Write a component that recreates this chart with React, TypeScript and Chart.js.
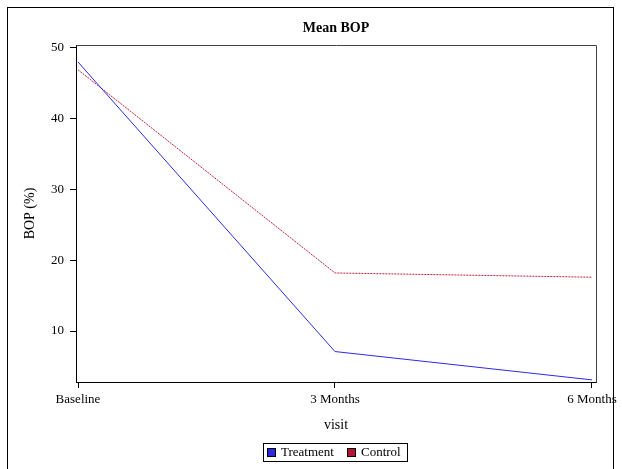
import React, { useEffect, useRef } from "react";
import { Chart, registerables } from "chart.js";

Chart.register(...registerables);

const categories = ["Baseline", "3 Months", "6 Months"];
const treatment = [48.0, 7.1, 3.1];
const control = [46.9, 18.2, 17.6];
const yTicks = [10, 20, 30, 40, 50];

const FONT = "'Liberation Serif', 'Times New Roman', serif";

const decorations = {
  id: "decorations",
  afterDraw(chart: any) {
    const ctx = chart.ctx;
    const ca = chart.chartArea;
    ctx.save();
    // outer border
    ctx.strokeStyle = "#000";
    ctx.lineWidth = 1;
    ctx.strokeRect(7.5, 7.5, 606, 470);
    // plot frame (top/right)
    ctx.strokeStyle = "#444";
    ctx.beginPath();
    ctx.moveTo(Math.round(ca.left) + 0.5, Math.round(ca.top) + 0.5);
    ctx.lineTo(Math.round(ca.right) + 0.5, Math.round(ca.top) + 0.5);
    ctx.lineTo(Math.round(ca.right) + 0.5, Math.round(ca.bottom) + 0.5);
    ctx.stroke();
    // title
    const cx = (ca.left + ca.right) / 2;
    ctx.fillStyle = "#000";
    ctx.textAlign = "center";
    ctx.textBaseline = "middle";
    ctx.font = `bold 14px ${FONT}`;
    ctx.fillText("Mean BOP", cx, 28);
    // x title
    ctx.font = `14px ${FONT}`;
    ctx.fillText("visit", cx, 425);
    // y title
    ctx.save();
    ctx.translate(30, (ca.top + ca.bottom) / 2);
    ctx.rotate(-Math.PI / 2);
    ctx.font = `14px ${FONT}`;
    ctx.fillText("BOP (%)", 0, 0);
    ctx.restore();
    // legend
    const lx = 263, ly = 443, lw = 144, lh = 18;
    ctx.strokeStyle = "#000";
    ctx.strokeRect(lx + 0.5, ly + 0.5, lw, lh);
    const items = [
      { label: chart.data.datasets[0].label, color: "#2a2ae0", x: 267 },
      { label: chart.data.datasets[1].label, color: "#b3162e", x: 347 },
    ];
    ctx.font = `13px ${FONT}`;
    ctx.textAlign = "left";
    items.forEach((it) => {
      ctx.fillStyle = it.color;
      ctx.fillRect(it.x + 0.5, ly + 5.5, 8, 8);
      ctx.strokeStyle = "#000";
      ctx.strokeRect(it.x + 0.5, ly + 5.5, 8, 8);
      ctx.fillStyle = "#000";
      ctx.fillText(it.label, it.x + 14, ly + lh / 2 + 1);
    });
    ctx.restore();
  },
};

export default function App() {
  const ref = useRef<HTMLCanvasElement>(null);
  useEffect(() => {
    document.body.style.margin = "0";
    const chart = new Chart(ref.current!, {
      type: "line",
      data: {
        datasets: [
          {
            label: "Treatment",
            data: treatment.map((v, i) => ({ x: i, y: v })),
            borderColor: "#2a2ae6",
            borderWidth: 1,
            pointRadius: 0,
            tension: 0,
          },
          {
            label: "Control",
            data: control.map((v, i) => ({ x: i, y: v })),
            borderColor: "#c0203a",
            borderWidth: 1,
            borderDash: [2, 1],
            pointRadius: 0,
            tension: 0,
          },
        ],
      },
      plugins: [decorations],
      options: {
        responsive: false,
        animation: false,
        devicePixelRatio: 1,
        layout: { padding: { left: 0, right: 26, top: 45, bottom: 37 } },
        plugins: {
          legend: { display: false },
          title: { display: false },
          tooltip: { enabled: false },
        },
        scales: {
          x: {
            type: "linear",
            min: -0.0078,
            max: 2.0156,
            afterBuildTicks: (s: any) => {
              s.ticks = categories.map((_, i) => ({ value: i }));
            },
            afterFit: (s: any) => {
              s.height = 50;
            },
            ticks: {
              callback: (v: any) => categories[v as number] ?? "",
              color: "#000",
              font: { family: FONT, size: 13 },
              padding: 4,
              maxRotation: 0,
              autoSkip: false,
            },
            grid: {
              drawOnChartArea: false,
              drawTicks: true,
              tickLength: 6,
              color: "#000",
            },
            border: { display: true, color: "#000" },
          },
          y: {
            type: "linear",
            min: 2.8,
            max: 50.4,
            afterBuildTicks: (s: any) => {
              s.ticks = yTicks.map((v) => ({ value: v }));
            },
            afterFit: (s: any) => {
              s.width = 76;
            },
            ticks: {
              color: "#000",
              font: { family: FONT, size: 13 },
              padding: 6,
            },
            grid: {
              drawOnChartArea: false,
              drawTicks: true,
              tickLength: 6,
              color: "#000",
            },
            border: { display: true, color: "#000" },
          },
        },
      },
    });
    return () => chart.destroy();
  }, []);
  return <canvas ref={ref} width={622} height={469} style={{ display: "block" }} />;
}
